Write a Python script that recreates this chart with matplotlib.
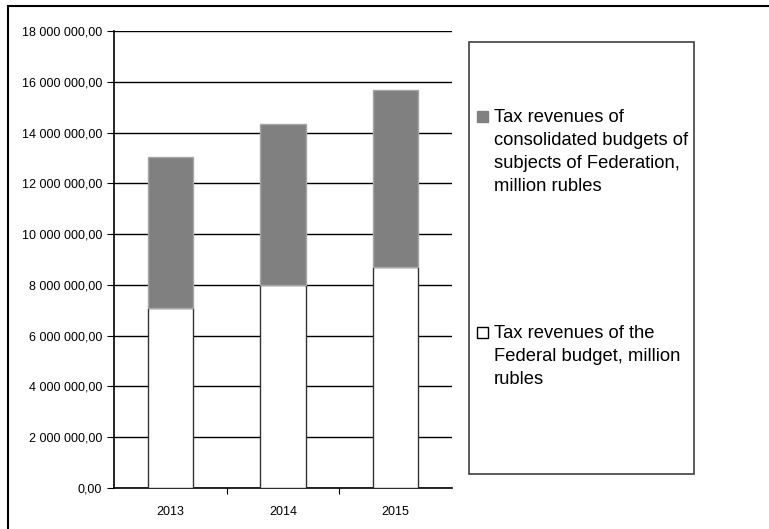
import numpy as np
import matplotlib
matplotlib.use("Agg")
import matplotlib.pyplot as plt
from matplotlib.patches import Rectangle

plt.rcParams['font.family'] = ['Liberation Sans', 'DejaVu Sans']

# --- data (million rubles)
years = ["2013", "2014", "2015"]
federal = [7100000, 8000000, 8700000]
regional = [5950000, 6350000, 6980000]
label_regional = "Tax revenues of\nconsolidated budgets of\nsubjects of Federation,\nmillion rubles"
label_federal = "Tax revenues of the\nFederal budget, million\nrubles"

yticks = np.arange(0, 18000001, 2000000)

def fmt(v):
    s = f"{v:,.2f}"
    return s.replace(",", " ").replace(".", ",")

W, H = 769, 529
fig = plt.figure(figsize=(W / 100, H / 100), dpi=100)

# outer frame (runs off the right and bottom edges)
fig.patches.append(Rectangle((8 / W, -0.1), 1.2, 1 - 6 / H + 0.1, transform=fig.transFigure,
                             fill=False, edgecolor="black", linewidth=1.5))

ax = fig.add_axes([114 / W, 1 - 488 / H, 338 / W, 457 / H])
x = np.arange(len(years))
ax.bar(x, federal, width=0.4, color="white", edgecolor="#333333", linewidth=1, zorder=3)
ax.bar(x, regional, bottom=federal, width=0.4, color="#808080", edgecolor="#a6a6a6",
       linewidth=1, zorder=3)

ax.set_xlim(-0.5, 2.5)
ax.set_ylim(0, 18000000)
ax.set_yticks(yticks)
ax.set_yticklabels([fmt(v) for v in yticks], fontsize=9)
ax.yaxis.grid(True, color="black", linewidth=1, zorder=0)
ax.set_axisbelow(True)

# category separators as major ticks, year names as minor labels
ax.set_xticks([0.5, 1.5])
ax.set_xticklabels([])
ax.set_xticks(x, minor=True)
ax.set_xticklabels(years, minor=True, fontsize=9)
ax.tick_params(axis="x", which="minor", length=0, pad=13)
ax.tick_params(axis="x", which="major", length=4, direction="out")
ax.tick_params(axis="y", length=5, direction="out")

for side in ["top", "right"]:
    ax.spines[side].set_visible(False)
ax.spines["left"].set_linewidth(1.2)
ax.spines["bottom"].set_linewidth(1.2)

# --- legend box
fig.patches.append(Rectangle((469 / W, 1 - 474 / H), 225 / W, 432 / H, transform=fig.transFigure,
                             fill=False, edgecolor="#404040", linewidth=1.2))
entries = [(label_regional, "#808080", "#808080", 111),
           (label_federal, "white", "black", 327)]
for text, fc, ec, ytop in entries:
    fig.patches.append(Rectangle((477 / W, 1 - (ytop + 11) / H), 11 / W, 11 / H,
                                 transform=fig.transFigure, facecolor=fc, edgecolor=ec, linewidth=1))
    fig.text(494 / W, 1 - (ytop - 2) / H, text, fontsize=13.2, va="top", ha="left",
             linespacing=1.45)

fig.savefig("out.png", dpi=100)
